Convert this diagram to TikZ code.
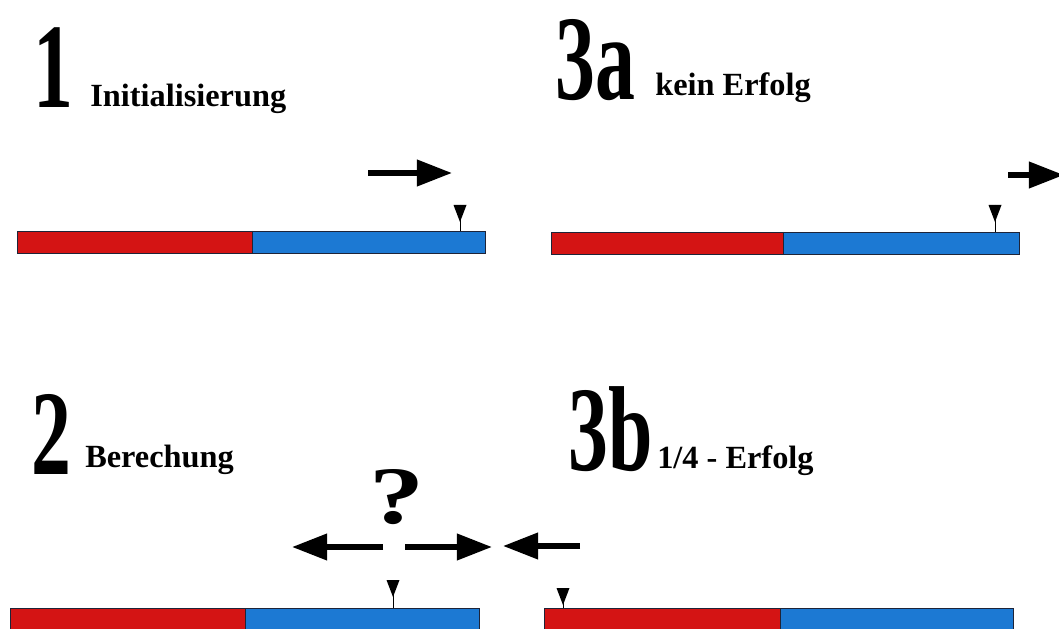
\documentclass[tikz,border=0pt]{standalone}
\usepackage{fontspec}
\setmainfont{Liberation Serif}
\usepackage{xcolor}
\usepackage{tikz}
\usetikzlibrary{arrows.meta}
\definecolor{barred}{HTML}{D41414}
\definecolor{barblue}{HTML}{1C79D3}
\definecolor{baredge}{HTML}{1E2438}
\newcommand{\stepnum}[1]{\scalebox{0.66}[1]{\fontsize{86}{86}\selectfont\bfseries #1}}
\tikzset{
  numlbl/.style={inner sep=0pt,anchor=base west},
  txtlbl/.style={inner sep=0pt,anchor=base west,font=\fontsize{23}{26}\selectfont\bfseries},
  bigar/.style={-{Triangle[length=0.88cm,width=0.64cm]},line width=4pt,black},
  stem/.style={line width=0.6pt,black}
}
\begin{document}
\begin{tikzpicture}[x=0.025cm,y=-0.025cm]
\useasboundingbox (0,0) rectangle (1059,629);
\fill[white] (0,0) rectangle (1059,629);
\clip (0,0) rectangle (1059,629);
% bars: left / split / right / top
\foreach \l/\m/\r/\t in {17/252/485/231,551/783/1019/232,10/245/479/608,544/780/1013/608}{%
  \fill[barred] (\l,\t) rectangle (\m,\t+22);
  \fill[barblue] (\m,\t) rectangle (\r,\t+22);
  \draw[baredge,line width=0.5pt] (\l,\t) rectangle (\r,\t+22) (\m,\t) -- (\m,\t+22);}
% position markers
\foreach \x/\t/\b in {460/205/231,995/205/232,393/580/608,563/588/608}{%
  \fill (\x-6.5,\t) -- (\x+6.5,\t) -- (\x,\t+17) -- cycle;
  \draw[stem] (\x,\t) -- (\x,\b);}
% titles
\node[numlbl] (n1) at (33,108) {\stepnum{1}};
\node[txtlbl] (t1) at (90,107) {Initialisierung};
\node[numlbl] (n3a) at (555,100) {\stepnum{3a}};
\node[txtlbl] (t3a) at (655,96) {kein Erfolg};
\node[numlbl] (n2) at (31,474) {\stepnum{2}};
\node[txtlbl] (t2) at (85,467) {Berechung};
\node[numlbl] (n3b) at (568,470) {\stepnum{3b}};
\node[txtlbl] (t3b) at (657,468) {1/4 - Erfolg};
\node[inner sep=0pt,font=\fontsize{58}{58}\selectfont\bfseries] (q) at (397,497) {\scalebox{1.35}[1]{?}};
% search arrows
\coordinate (a1s) at (368,173);
\coordinate (a1e) at (452,173);
\coordinate (a3s) at (1008,175);
\coordinate (a3e) at (1064,175);
\coordinate (a2ls) at (383,547);
\coordinate (a2le) at (292,547);
\coordinate (a2rs) at (405,547);
\coordinate (a2re) at (492,547);
\coordinate (a3bs) at (580,546);
\coordinate (a3be) at (503,546);
\draw[bigar] (a1s) -- (a1e);
\draw[bigar] (a3s) -- (a3e);
\draw[bigar] (a2ls) -- (a2le);
\draw[bigar] (a2rs) -- (a2re);
\draw[bigar] (a3bs) -- (a3be);
\end{tikzpicture}
\end{document}
